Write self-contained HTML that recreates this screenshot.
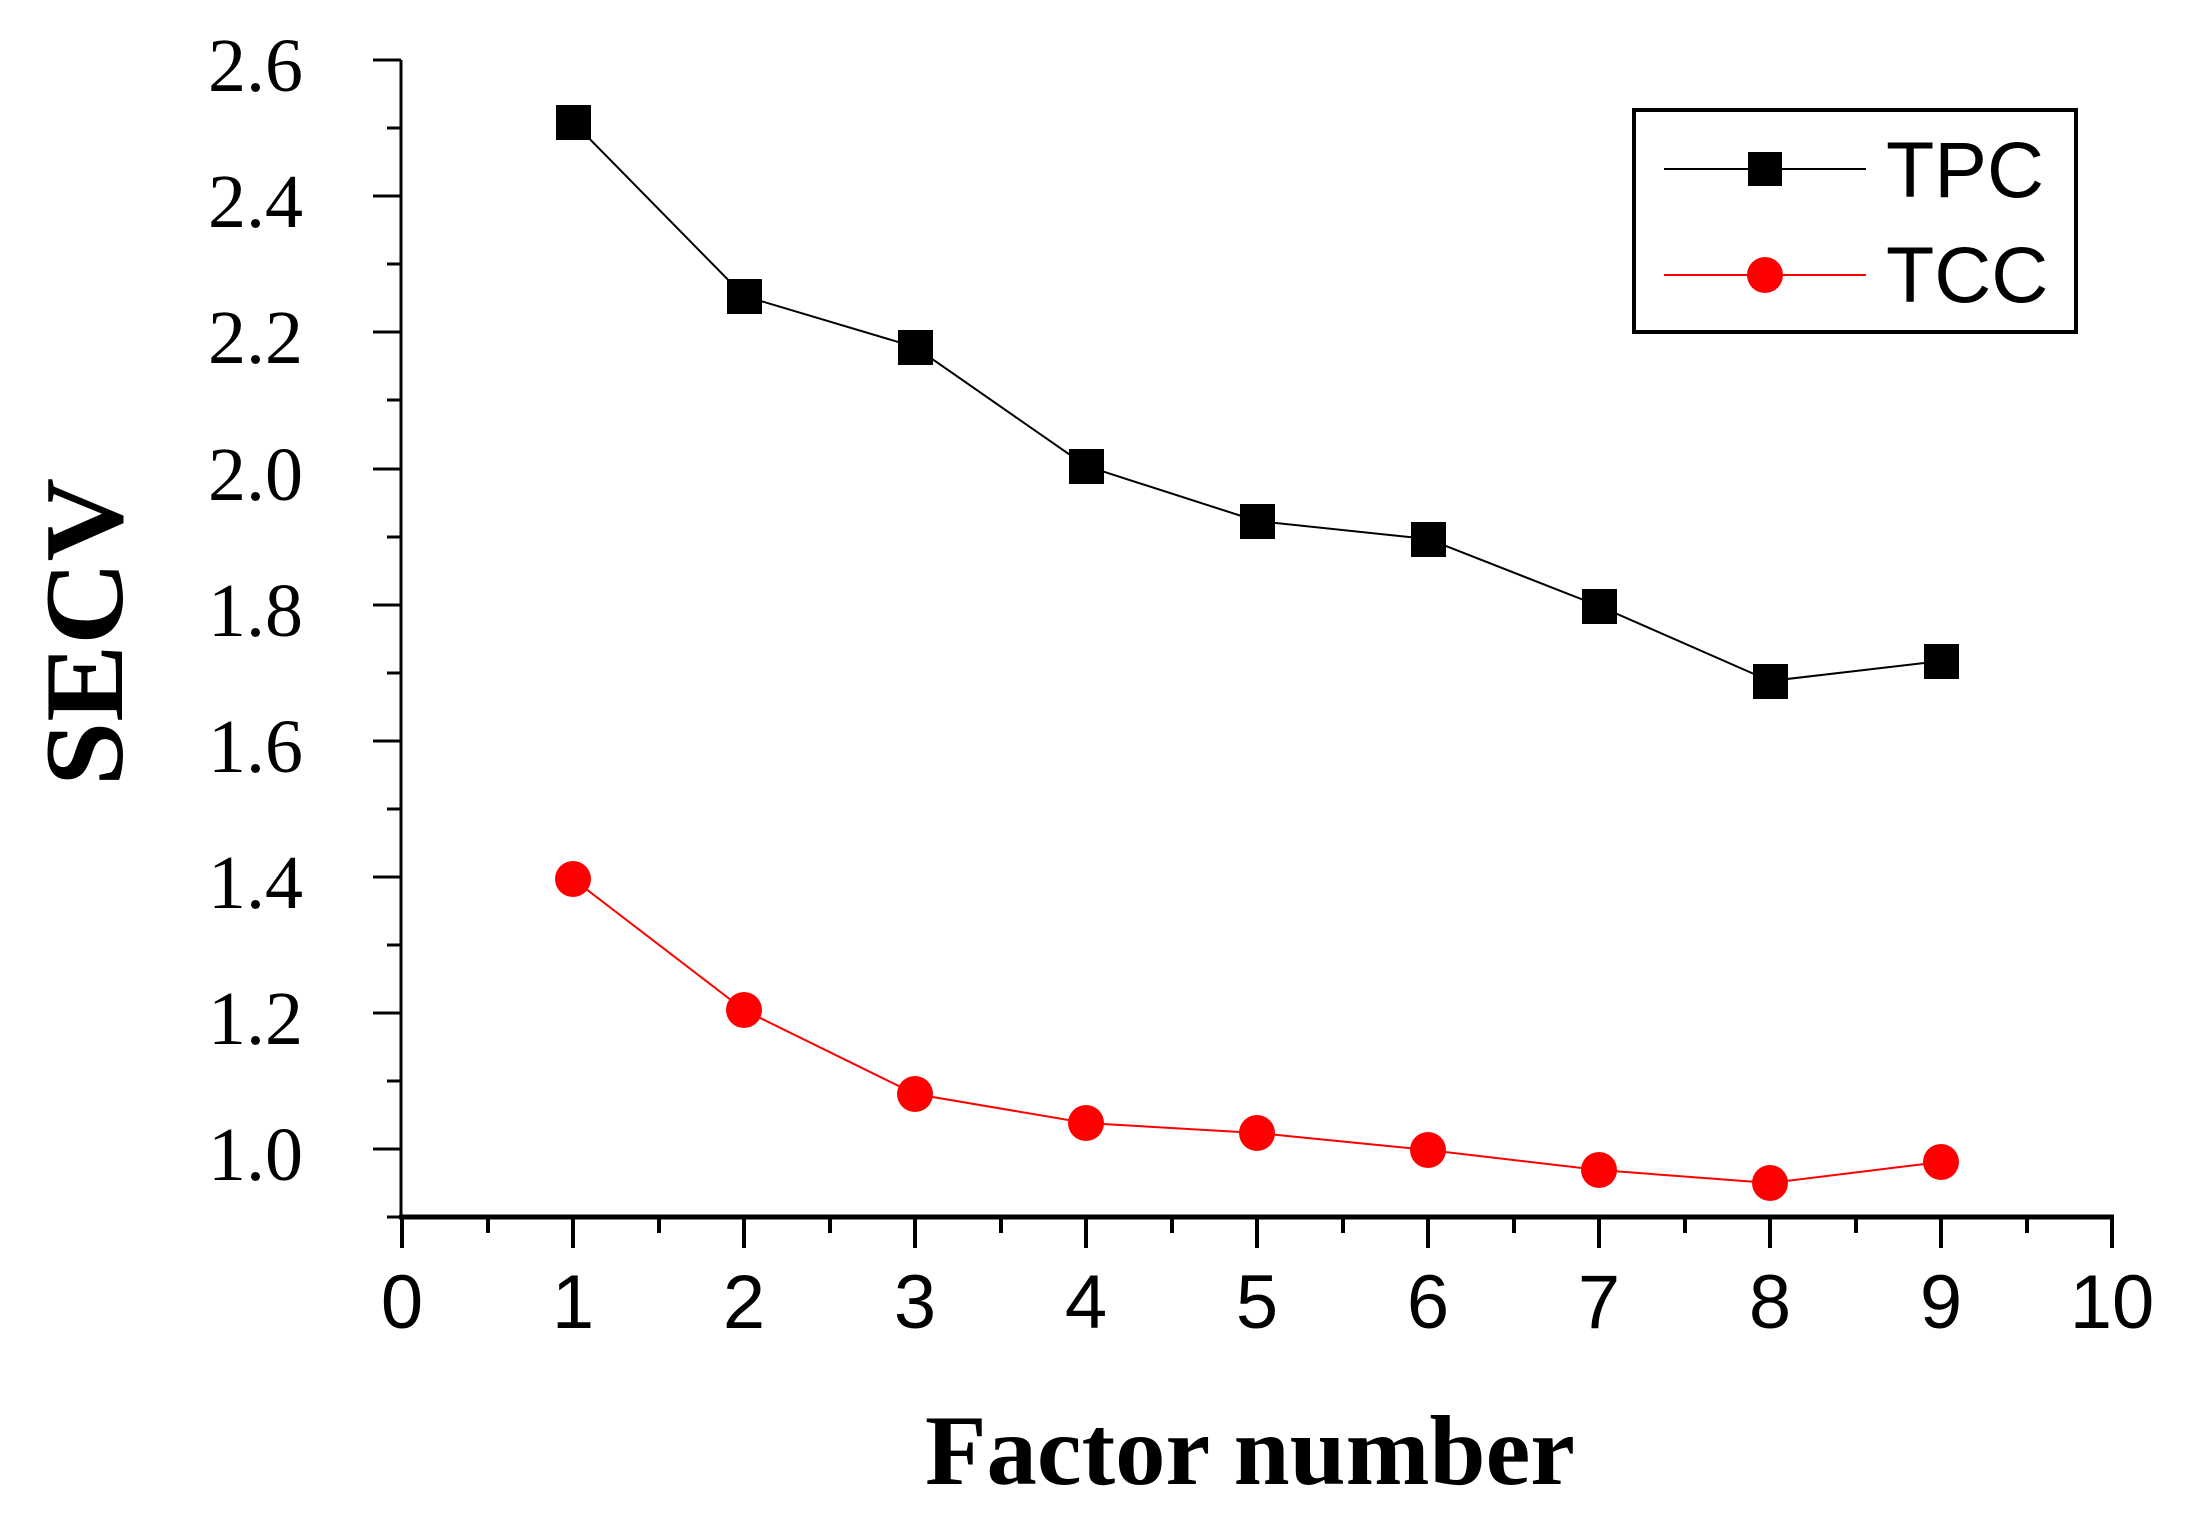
<!DOCTYPE html>
<html><head><style>html,body{margin:0;padding:0;background:#fff;}</style></head>
<body>
<svg width="2190" height="1524" xmlns="http://www.w3.org/2000/svg">
<rect width="2190" height="1524" fill="#fff"/>
<g stroke="#000" fill="none">
<line x1="401" y1="60" x2="401" y2="1218" stroke-width="3"/>
<line x1="399" y1="1217" x2="2114" y2="1217" stroke-width="5"/>
<!-- y ticks -->
<g stroke-width="3">
<line x1="373" y1="60" x2="401" y2="60"/><line x1="387" y1="128" x2="401" y2="128"/>
<line x1="373" y1="196" x2="401" y2="196"/><line x1="387" y1="264" x2="401" y2="264"/>
<line x1="373" y1="332" x2="401" y2="332"/><line x1="387" y1="400" x2="401" y2="400"/>
<line x1="373" y1="469" x2="401" y2="469"/><line x1="387" y1="537" x2="401" y2="537"/>
<line x1="373" y1="605" x2="401" y2="605"/><line x1="387" y1="673" x2="401" y2="673"/>
<line x1="373" y1="741" x2="401" y2="741"/><line x1="387" y1="809" x2="401" y2="809"/>
<line x1="373" y1="877" x2="401" y2="877"/><line x1="387" y1="945" x2="401" y2="945"/>
<line x1="373" y1="1013" x2="401" y2="1013"/><line x1="387" y1="1081" x2="401" y2="1081"/>
<line x1="373" y1="1149" x2="401" y2="1149"/><line x1="387" y1="1217" x2="401" y2="1217"/>
</g>
<!-- x ticks -->
<g stroke-width="4">
<line x1="402" y1="1217" x2="402" y2="1248"/><line x1="488" y1="1217" x2="488" y2="1233"/>
<line x1="573" y1="1217" x2="573" y2="1248"/><line x1="659" y1="1217" x2="659" y2="1233"/>
<line x1="744" y1="1217" x2="744" y2="1248"/><line x1="830" y1="1217" x2="830" y2="1233"/>
<line x1="915" y1="1217" x2="915" y2="1248"/><line x1="1001" y1="1217" x2="1001" y2="1233"/>
<line x1="1086" y1="1217" x2="1086" y2="1248"/><line x1="1172" y1="1217" x2="1172" y2="1233"/>
<line x1="1257" y1="1217" x2="1257" y2="1248"/><line x1="1343" y1="1217" x2="1343" y2="1233"/>
<line x1="1428" y1="1217" x2="1428" y2="1248"/><line x1="1514" y1="1217" x2="1514" y2="1233"/>
<line x1="1599" y1="1217" x2="1599" y2="1248"/><line x1="1685" y1="1217" x2="1685" y2="1233"/>
<line x1="1770" y1="1217" x2="1770" y2="1248"/><line x1="1856" y1="1217" x2="1856" y2="1233"/>
<line x1="1941" y1="1217" x2="1941" y2="1248"/><line x1="2027" y1="1217" x2="2027" y2="1233"/>
<line x1="2112" y1="1217" x2="2112" y2="1248"/>
</g>
</g>
<g font-family="Liberation Serif, serif" font-size="76" text-anchor="end" fill="#000">
<text x="303" y="91">2.6</text><text x="303" y="227">2.4</text><text x="303" y="363">2.2</text>
<text x="303" y="500">2.0</text><text x="303" y="636">1.8</text><text x="303" y="772">1.6</text>
<text x="303" y="908">1.4</text><text x="303" y="1044">1.2</text><text x="303" y="1180">1.0</text>
</g>
<g font-family="Liberation Sans, sans-serif" font-size="76" text-anchor="middle" fill="#000">
<text x="402" y="1328">0</text><text x="573" y="1328">1</text><text x="744" y="1328">2</text>
<text x="915" y="1328">3</text><text x="1086" y="1328">4</text><text x="1257" y="1328">5</text>
<text x="1428" y="1328">6</text><text x="1599" y="1328">7</text><text x="1770" y="1328">8</text>
<text x="1941" y="1328">9</text><text x="2112" y="1328">10</text>
</g>
<text x="1250" y="1484" font-family="Liberation Serif, serif" font-weight="bold" font-size="100" text-anchor="middle" textLength="650" lengthAdjust="spacingAndGlyphs">Factor number</text>
<text transform="translate(122,632) rotate(-90)" font-family="Liberation Serif, serif" font-weight="bold" font-size="112" text-anchor="middle" textLength="308" lengthAdjust="spacingAndGlyphs">SECV</text>
<!-- TPC -->
<polyline fill="none" stroke="#000" stroke-width="2" points="573,122 744,296 915,347 1086,466 1257,521 1428,539 1599,606 1770,681 1941,661"/>
<g fill="#000">
<rect x="556" y="105" width="35" height="35"/><rect x="727" y="279" width="35" height="35"/>
<rect x="898" y="330" width="35" height="35"/><rect x="1069" y="449" width="35" height="35"/>
<rect x="1240" y="504" width="35" height="35"/><rect x="1411" y="522" width="35" height="35"/>
<rect x="1582" y="589" width="35" height="35"/><rect x="1753" y="664" width="35" height="35"/>
<rect x="1924" y="644" width="35" height="35"/>
</g>
<!-- TCC -->
<polyline fill="none" stroke="#f00" stroke-width="2" points="573,879 744,1010 915,1094 1086,1123 1257,1133 1428,1150 1599,1170 1770,1183 1941,1162"/>
<g fill="#f00">
<circle cx="573" cy="879" r="18"/><circle cx="744" cy="1010" r="18"/><circle cx="915" cy="1094" r="18"/>
<circle cx="1086" cy="1123" r="18"/><circle cx="1257" cy="1133" r="18"/><circle cx="1428" cy="1150" r="18"/>
<circle cx="1599" cy="1170" r="18"/><circle cx="1770" cy="1183" r="18"/><circle cx="1941" cy="1162" r="18"/>
</g>
<!-- legend -->
<rect x="1634" y="110" width="442" height="222" fill="none" stroke="#000" stroke-width="4"/>
<line x1="1664" y1="169" x2="1866" y2="169" stroke="#000" stroke-width="2"/>
<rect x="1748" y="152" width="34" height="34" fill="#000"/>
<line x1="1664" y1="275" x2="1866" y2="275" stroke="#f00" stroke-width="2"/>
<circle cx="1765" cy="275" r="18" fill="#f00"/>
<g font-family="Liberation Sans, sans-serif" font-size="79" fill="#000">
<text x="1886" y="197">TPC</text><text x="1886" y="302">TCC</text>
</g>
</svg>
</body></html>
